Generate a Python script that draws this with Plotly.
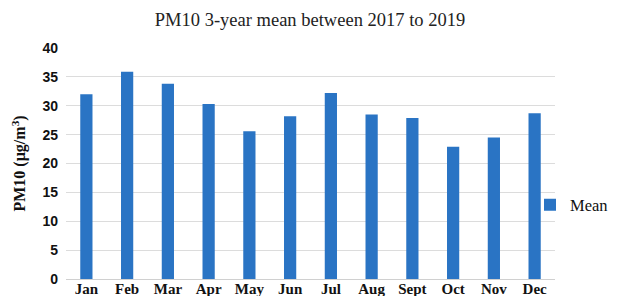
import plotly.graph_objects as go

months = ["Jan", "Feb", "Mar", "Apr", "May", "Jun", "Jul", "Aug", "Sept", "Oct", "Nov", "Dec"]
mean_pm10 = [32.0, 35.9, 33.8, 30.3, 25.6, 28.2, 32.2, 28.5, 27.9, 22.9, 24.5, 28.7]
y_ticks = [0, 5, 10, 15, 20, 25, 30, 35, 40]

# page body has an 8px margin, so the figure is laid out in shifted coordinates
OFF = 8
W, H = 621 - OFF, 296 - OFF
L, R, T = 66 - OFF, 4, 48 - OFF
B = H - (279 - OFF)
plot_right = 555 - OFF
pw = W - L - R
ph = H - T - B

fig = go.Figure()
fig.add_trace(go.Bar(
    x=months, y=mean_pm10, name="Mean",
    marker=dict(color="#2a74c4", line=dict(width=0)),
))

fig.update_layout(
    width=W, height=H,
    margin=dict(l=L, r=R, t=T, b=B, autoexpand=False),
    paper_bgcolor="white", plot_bgcolor="white",
    bargap=0.7,
    showlegend=True,
    title=dict(text="PM10 3-year mean between 2017 to 2019",
               font=dict(family="Liberation Serif", size=18.5, color="#222"),
               x=(310 - OFF) / W, xanchor="center", y=1 - (20 - OFF) / H, yanchor="middle"),
    legend=dict(x=(530 - OFF - L) / pw, xanchor="left",
                y=(H - B - (205 - OFF)) / ph, yanchor="middle",
                font=dict(family="Liberation Serif", size=16.5, color="#111"),
                itemwidth=30, bgcolor="rgba(0,0,0,0)"),
    xaxis=dict(domain=[0, (plot_right - L) / pw], automargin=False,
               showgrid=False, showline=True, linecolor="#d0d0d0", linewidth=1,
               ticks="", tickfont=dict(family="Liberation Serif", size=15, color="#111", weight="bold"),
               ticklabelstandoff=-4),
    yaxis=dict(range=[0, 40], tickvals=y_ticks, showgrid=True, gridcolor="#dcdcdc",
               automargin=False,
               gridwidth=1, zeroline=False, ticks="",
               tickfont=dict(family="Liberation Sans", size=14, color="#111", weight="bold"),
               ticklabelstandoff=7,
               title=dict(text="PM10 (µg/m<sup>3</sup>)",
                          font=dict(family="Liberation Serif", size=16, color="#111", weight="bold"),
                          standoff=12)),
)

fig.write_html("out.html")
